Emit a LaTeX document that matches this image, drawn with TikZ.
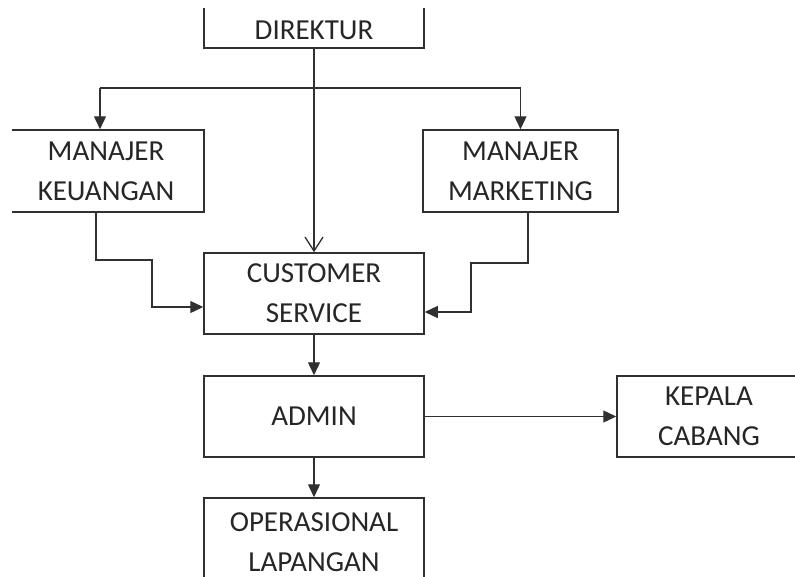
\documentclass[tikz,border=0pt]{standalone}
\usepackage{fontspec}
\setmainfont{Carlito}
\usetikzlibrary{arrows.meta}
\definecolor{ln}{HTML}{303030}
\definecolor{tx}{HTML}{262626}
\tikzset{
  box/.style={draw=ln, line width=1.5pt, inner sep=0pt, align=center, text=tx,
    font=\fontsize{29}{40}\selectfont},
  lbl/.style={inner sep=0pt, text=tx, font=\fontsize{29}{40}\selectfont},
  conn/.style={draw=ln, line width=1.3pt},
  arr/.style={conn, -{Triangle[length=13pt,width=12pt]}},
  oarr/.style={conn, -{Straight Barb[length=14pt,width=18pt,line width=1.3pt]}}
}
\begin{document}
\begin{tikzpicture}[x=1pt,y=1pt]
\useasboundingbox (0,0) rectangle (795,-576);
\fill[white] (0,0) rectangle (795,-576);
\clip (12,-8) rectangle (795,-576);
\node[box, minimum width=220pt, minimum height=80pt] (dirbox) at (314,-8) {};
\node[lbl] (dirtext) at (314,-30) {DIREKTUR};
\node[box, minimum width=196pt, minimum height=82pt] (mk) at (106,-171) {MANAJER\\KEUANGAN};
\node[box, minimum width=195pt, minimum height=82pt] (mm) at (520.5,-171) {MANAJER\\MARKETING};
\node[box, minimum width=220pt, minimum height=81pt] (cs) at (314,-293.5) {CUSTOMER\\SERVICE};
\node[box, minimum width=220pt, minimum height=81pt] (admin) at (314,-416.5) {ADMIN};
\node[box, minimum width=184pt, minimum height=81pt] (kc) at (709,-416.5) {KEPALA\\CABANG};
\node[box, minimum width=220pt, minimum height=88pt] (op) at (314,-542) {OPERASIONAL\\LAPANGAN};
% bus
\coordinate (busL) at (100,-88);
\coordinate (busR) at (520.5,-88);
\draw[conn] (busL) -- (busR);
\draw[arr] (busL) -- (busL |- mk.north);
\draw[arr] (busR) -- (busR |- mm.north);
\draw[oarr] (dirbox.south) -- (cs.north);
% keuangan -> cs
\coordinate (k1) at (96,-260);
\coordinate (k2) at (152,-260);
\coordinate (k3) at (152,-307);
\draw[arr] (k1 |- mk.south) -- (k1) -- (k2) -- (k3) -- (k3 -| cs.west);
% marketing -> cs
\coordinate (m1) at (528,-263);
\coordinate (m2) at (471,-263);
\coordinate (m3) at (471,-312);
\draw[arr] (m1 |- mm.south) -- (m1) -- (m2) -- (m3) -- (m3 -| cs.east);
\draw[arr] (cs.south) -- (admin.north);
\draw[arr] (admin.east) -- (kc.west);
\draw[arr] (admin.south) -- (op.north);
\end{tikzpicture}
\end{document}
